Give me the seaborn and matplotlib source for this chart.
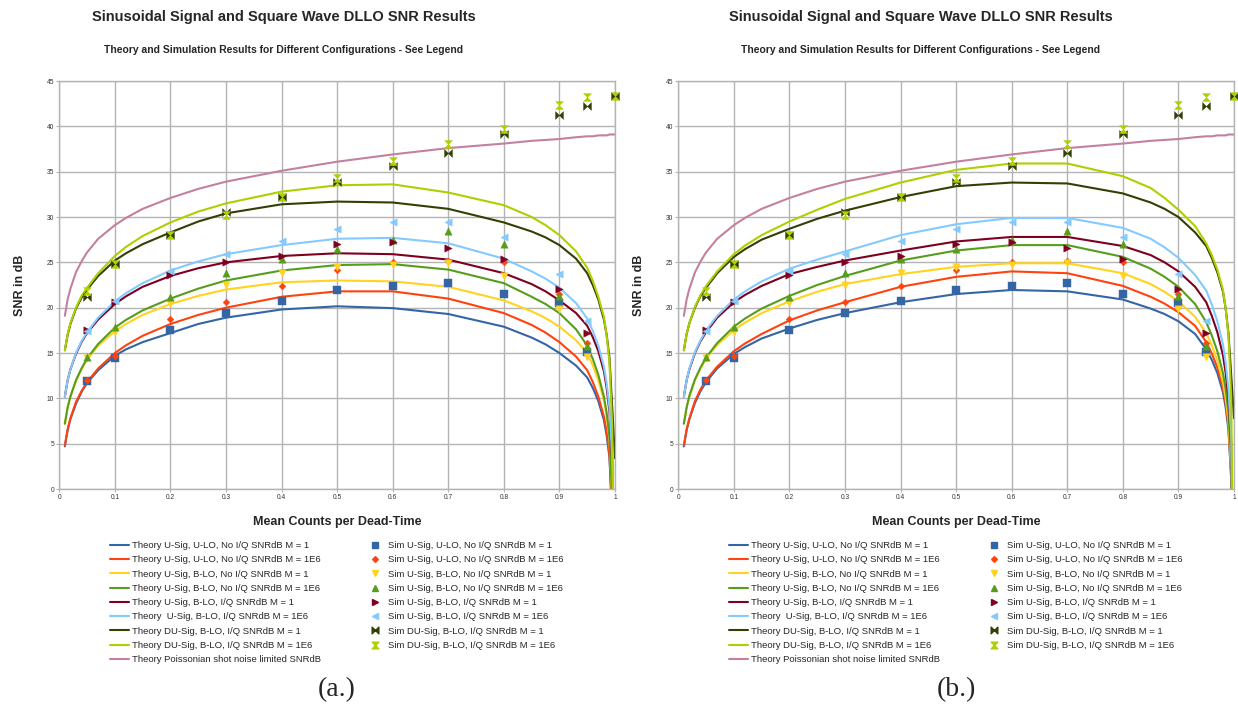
import numpy as np
import pandas as pd
import matplotlib.pyplot as plt
from matplotlib.lines import Line2D
from matplotlib.path import Path
import seaborn as sns

sns.set_style("whitegrid")
plt.rcParams['font.family'] = ['Liberation Sans', 'DejaVu Sans']

# ---- data ----
x_theory = [0.01, 0.015, 0.02, 0.03, 0.04, 0.05, 0.07, 0.1, 0.12, 0.15, 0.2, 0.25, 0.3, 0.4,
            0.5, 0.6, 0.7, 0.8, 0.85, 0.875, 0.9, 0.93, 0.95, 0.96, 0.97, 0.98, 0.985,
            0.99, 0.995, 1.0]

# panel (a.)
a_uu_1 = [4.7, 6.5, 7.7, 9.4, 10.7, 11.7, 13.1, 14.7, 15.4, 16.2, 17.2, 18.2, 18.9, 19.8,
          20.15, 19.95, 19.3, 17.9, 16.7, 15.95, 15.0, 13.6, 12.3, 11.15, 9.7, 7.6, 5.9,
          3.5, -3, -20]
a_uu_1e6 = [4.8, 6.6, 7.8, 9.6, 10.8, 11.8, 13.3, 15.0, 15.85, 16.9, 18.2, 19.2, 20.0, 21.2,
            21.8, 21.8, 21.0, 19.4, 18.1, 17.25, 16.2, 14.6, 13.1, 11.8, 10.2, 8.0, 6.3,
            3.8, -3, -20]
a_ub_1 = [7.2, 9.0, 10.2, 11.9, 13.2, 14.3, 15.8, 17.4, 18.2, 19.2, 20.4, 21.3, 22.0, 22.8,
          23.0, 22.9, 22.3, 20.8, 19.6, 18.85, 17.9, 16.4, 15.0, 13.65, 12.0, 9.8, 8.05,
          5.5, -1, -20]
a_ub_1e6 = [7.2, 9.0, 10.2, 12.0, 13.3, 14.4, 16.0, 17.8, 18.65, 19.7, 21.0, 22.1, 23.0, 24.1,
            24.7, 24.8, 24.2, 22.7, 21.2, 20.4, 19.4, 17.6, 15.8, 14.35, 12.6, 10.2, 8.4,
            5.8, -1, -20]
a_ubiq_1 = [10.2, 12.0, 13.2, 14.9, 16.2, 17.2, 18.7, 20.4, 21.25, 22.3, 23.5, 24.35, 25.0,
            25.7, 26.0, 25.9, 25.3, 23.8, 22.6, 21.8, 20.8, 19.4, 18.0, 16.75, 15.2, 13.0,
            11.15, 8.5, 3.0, -20]
a_ubiq_1e6 = [10.2, 12.0, 13.2, 15.0, 16.3, 17.3, 18.9, 20.7, 21.6, 22.7, 24.1, 25.1, 25.9,
              26.9, 27.6, 27.7, 27.1, 25.4, 24.0, 23.2, 22.2, 20.5, 18.8, 17.45, 15.8, 13.5,
              11.65, 9.0, 3.5, -20]
a_du_1 = [15.3, 17.0, 18.2, 19.9, 21.1, 22.0, 23.5, 25.2, 26.0, 27.0, 28.3, 29.5, 30.4, 31.4,
          31.7, 31.6, 30.9, 29.4, 28.4, 27.75, 26.9, 25.4, 23.8, 22.5, 20.9, 18.7, 17.0,
          14.5, 9.0, 3.4]
a_du_1e6 = [15.3, 17.1, 18.3, 20.0, 21.3, 22.2, 23.8, 25.7, 26.7, 27.9, 29.4, 30.6, 31.5,
            32.8, 33.5, 33.6, 32.7, 31.3, 30.0, 29.1, 28.0, 26.2, 24.4, 22.95, 21.2, 19.0,
            16.9, 14.0, 7.0, -20]

# panel (b.)
b_uu_1 = [4.7, 6.5, 7.7, 9.5, 10.8, 11.8, 13.3, 14.9, 15.65, 16.6, 17.7, 18.65, 19.4, 20.6,
          21.5, 21.95, 21.8, 20.9, 19.9, 19.3, 18.5, 17.1, 15.4, 14.25, 12.8, 10.7, 9.0,
          6.5, 1.0, -20]
b_uu_1e6 = [4.8, 6.6, 7.8, 9.7, 11.0, 12.0, 13.5, 15.2, 16.05, 17.1, 18.6, 19.7, 20.6, 22.3,
            23.4, 24.0, 23.8, 22.4, 21.2, 20.45, 19.5, 18.0, 16.2, 14.95, 13.4, 11.2, 9.5,
            7.0, 1.5, -20]
b_ub_1 = [7.2, 9.0, 10.2, 12.0, 13.3, 14.4, 15.9, 17.5, 18.35, 19.4, 20.7, 21.75, 22.6, 23.7,
          24.5, 24.9, 24.9, 23.8, 22.6, 21.75, 20.7, 19.0, 17.2, 15.85, 14.2, 11.8, 10.05,
          7.5, 2.0, -20]
b_ub_1e6 = [7.2, 9.0, 10.3, 12.1, 13.4, 14.5, 16.1, 17.9, 18.8, 19.9, 21.3, 22.5, 23.5, 25.2,
            26.3, 26.9, 26.9, 25.6, 24.3, 23.4, 22.3, 20.4, 18.4, 16.95, 15.2, 12.8, 11.05,
            8.5, 3.0, -20]
b_ubiq_1 = [10.2, 12.0, 13.2, 15.0, 16.3, 17.3, 18.9, 20.6, 21.4, 22.4, 23.7, 24.5, 25.2,
            26.3, 27.3, 27.8, 27.8, 26.8, 25.8, 25.0, 24.0, 22.3, 20.6, 19.1, 17.3, 14.8,
            12.8, 10.0, 5.0, -20]
b_ubiq_1e6 = [10.2, 12.0, 13.3, 15.1, 16.4, 17.5, 19.1, 20.9, 21.8, 22.9, 24.3, 25.3, 26.2,
              28.0, 29.2, 29.9, 29.9, 28.8, 27.6, 26.65, 25.5, 23.6, 21.9, 20.35, 18.5, 16.0,
              13.9, 11.0, 5.5, -20]
b_du_1 = [15.3, 17.1, 18.3, 20.0, 21.3, 22.2, 23.8, 25.6, 26.45, 27.5, 28.7, 29.8, 30.7,
          32.2, 33.4, 33.8, 33.7, 32.6, 31.6, 30.9, 30.0, 28.3, 26.8, 25.5, 23.9, 21.8,
          19.9, 17.2, 12.5, 7.8]
b_du_1e6 = [15.3, 17.1, 18.3, 20.1, 21.4, 22.4, 24.0, 25.9, 26.85, 28.0, 29.5, 30.8, 32.0,
            33.8, 35.2, 35.9, 35.9, 34.5, 33.2, 32.1, 30.8, 29.0, 27.1, 25.8, 24.2, 22.0,
            19.9, 17.0, 10.0, -20]

poisson = [19.1, 20.9, 22.1, 23.9, 25.1, 26.1, 27.6, 29.1, 29.9, 30.9, 32.1, 33.1, 33.9, 35.1,
           36.1, 36.9, 37.6, 38.1, 38.4, 38.5, 38.6, 38.8, 38.9, 38.9, 39.0, 39.0, 39.0,
           39.1, 39.1, 39.1]

# simulation points (same in both panels)
x_sim = [0.05, 0.1, 0.2, 0.3, 0.4, 0.5, 0.6, 0.7, 0.8, 0.9, 0.95]
x_sim_du = [0.05, 0.1, 0.2, 0.3, 0.4, 0.5, 0.6, 0.7, 0.8, 0.9, 0.95, 1.0]
sim_uu_1 = [11.9, 14.5, 17.5, 19.4, 20.7, 22.0, 22.4, 22.75, 21.5, 20.55, 15.1]
sim_uu_1e6 = [12.0, 14.7, 18.7, 20.6, 22.4, 24.15, 25.0, 25.2, 25.0, 21.5, 16.1]
sim_ub_1 = [14.5, 17.3, 20.5, 22.5, 23.8, 24.5, 24.7, 24.9, 23.5, 19.8, 14.6]
sim_ub_1e6 = [14.6, 17.9, 21.2, 23.8, 25.4, 26.5, 27.5, 28.5, 27.0, 21.3, 15.8]
sim_ubiq_1 = [17.5, 20.6, 23.6, 25.0, 25.7, 27.0, 27.2, 26.6, 25.4, 22.1, 17.2]
sim_ubiq_1e6 = [17.4, 20.7, 24.0, 25.9, 27.4, 28.7, 29.4, 29.4, 27.8, 23.7, 18.5]
sim_du_1 = [21.2, 24.8, 28.0, 30.5, 32.2, 33.9, 35.6, 37.1, 39.2, 41.3, 42.2, 43.3]
sim_du_1e6 = [21.8, 24.8, 28.0, 30.2, 32.2, 34.3, 36.2, 38.1, 39.7, 42.35, 43.2, 43.3]

theory_labels = [
    "Theory U-Sig, U-LO, No I/Q SNRdB M = 1",
    "Theory U-Sig, U-LO, No I/Q SNRdB M = 1E6",
    "Theory U-Sig, B-LO, No I/Q SNRdB M = 1",
    "Theory U-Sig, B-LO, No I/Q SNRdB M = 1E6",
    "Theory U-Sig, B-LO, I/Q SNRdB M = 1",
    "Theory  U-Sig, B-LO, I/Q SNRdB M = 1E6",
    "Theory DU-Sig, B-LO, I/Q SNRdB M = 1",
    "Theory DU-Sig, B-LO, I/Q SNRdB M = 1E6",
    "Theory Poissonian shot noise limited SNRdB",
]
sim_labels = [
    "Sim U-Sig, U-LO, No I/Q SNRdB M = 1",
    "Sim U-Sig, U-LO, No I/Q SNRdB M = 1E6",
    "Sim U-Sig, B-LO, No I/Q SNRdB M = 1",
    "Sim U-Sig, B-LO, No I/Q SNRdB M = 1E6",
    "Sim U-Sig, B-LO, I/Q SNRdB M = 1",
    "Sim U-Sig, B-LO, I/Q SNRdB M = 1E6",
    "Sim DU-Sig, B-LO, I/Q SNRdB M = 1",
    "Sim DU-Sig, B-LO, I/Q SNRdB M = 1E6",
]
colors = ["#3465a4", "#ff420e", "#ffd320", "#579d1c", "#7e0021",
          "#83caff", "#314004", "#aecf00", "#c4809f"]

# bow-tie and hour-glass markers
M, L, C = Path.MOVETO, Path.LINETO, Path.CLOSEPOLY
bowtie = Path([(-1, -1), (-1, 1), (0, 0), (-1, -1), (1, -1), (1, 1), (0, 0), (1, -1)],
              [M, L, L, C, M, L, L, C])
hourglass = Path([(-1, 1), (1, 1), (0, 0), (-1, 1), (-1, -1), (1, -1), (0, 0), (-1, -1)],
                 [M, L, L, C, M, L, L, C])
sim_markers = ["s", "D", "v", "^", ">", "<", bowtie, hourglass]
sim_sizes = [26, 12, 28, 28, 28, 28, 32, 32]

sims = [(x_sim, sim_uu_1), (x_sim, sim_uu_1e6), (x_sim, sim_ub_1), (x_sim, sim_ub_1e6),
        (x_sim, sim_ubiq_1), (x_sim, sim_ubiq_1e6), (x_sim_du, sim_du_1), (x_sim_du, sim_du_1e6)]
panels = [
    ([a_uu_1, a_uu_1e6, a_ub_1, a_ub_1e6, a_ubiq_1, a_ubiq_1e6, a_du_1, a_du_1e6, poisson], 0),
    ([b_uu_1, b_uu_1e6, b_ub_1, b_ub_1e6, b_ubiq_1, b_ubiq_1e6, b_du_1, b_du_1e6, poisson], 619),
]

W, H = 1238, 710
fig = plt.figure(figsize=(W / 100, H / 100), dpi=100)
grid_col = "#b3b3b3"


def fx(px):
    return px / W


def fy(py):
    return 1 - py / H


for (theory, off), tag in zip(panels, ["(a.)", "(b.)"]):
    ax = fig.add_axes([fx(59.3 + off), fy(489), 555.7 / W, 408 / H])
    for vals, col in zip(theory, colors):
        sns.lineplot(x=x_theory, y=vals, color=col, lw=1.5, ax=ax, legend=False, sort=False)
    for (xs, ys), mk, sz, col in zip(sims, sim_markers, sim_sizes, colors):
        sns.scatterplot(x=xs, y=ys, marker=mk, s=sz, color=col, edgecolor=col,
                        linewidth=0.3, ax=ax, legend=False, clip_on=False, zorder=5)

    ax.set_xlim(0, 1)
    ax.set_ylim(0, 45)
    ax.set_xticks(np.arange(0, 1.01, 0.1))
    ax.set_xticklabels(["0", "0.1", "0.2", "0.3", "0.4", "0.5", "0.6", "0.7", "0.8", "0.9", "1"])
    ax.set_yticks(np.arange(0, 46, 5))
    ax.grid(True, color=grid_col, lw=1.0)
    for sp in ax.spines.values():
        sp.set_color(grid_col)
        sp.set_linewidth(1.0)
    ax.tick_params(axis="both", which="major", labelsize=4.8, labelcolor="#333333",
                   length=2.2, width=0.8, color=grid_col, pad=1.5, direction="out")
    ax.tick_params(bottom=True, left=True)
    ax.set_xlabel("")
    ax.set_ylabel("")

    cx = 284 + off + 18 * (off > 0)
    fig.text(fx(cx), fy(17), "Sinusoidal Signal and Square Wave DLLO SNR Results",
             ha="center", va="center", fontsize=10.5, fontweight="bold")
    fig.text(fx(cx), fy(50), "Theory and Simulation Results for Different Configurations - See Legend",
             ha="center", va="center", fontsize=7.5, fontweight="bold")
    fig.text(fx(337 + off), fy(522), "Mean Counts per Dead-Time",
             ha="center", va="center", fontsize=9, fontweight="bold")
    fig.text(fx(20 + off), fy(285), "SNR in dB", rotation=90,
             ha="center", va="center", fontsize=9, fontweight="bold")
    fig.text(fx(337 + off), fy(690), tag, ha="center", va="center",
             fontsize=20, family="Liberation Serif")

    th = [Line2D([], [], color=c, lw=1.5) for c in colors]
    fig.legend(th, theory_labels, loc="upper left",
               bbox_to_anchor=(fx(110 + off), fy(541)), frameon=False,
               fontsize=6.8, handlelength=2.0, handletextpad=0.3,
               labelspacing=0.56, borderpad=0, borderaxespad=0)
    sh = [Line2D([], [], ls="", marker=mk, color=c, markersize=np.sqrt(sz) * 0.85)
          for mk, sz, c in zip(sim_markers, sim_sizes, colors[:8])]
    fig.legend(sh, sim_labels, loc="upper left",
               bbox_to_anchor=(fx(366 + off), fy(541)), frameon=False,
               fontsize=6.8, handlelength=2.0, handletextpad=0.3,
               labelspacing=0.56, borderpad=0, borderaxespad=0)

fig.savefig("out.png", dpi=100, facecolor="white")
